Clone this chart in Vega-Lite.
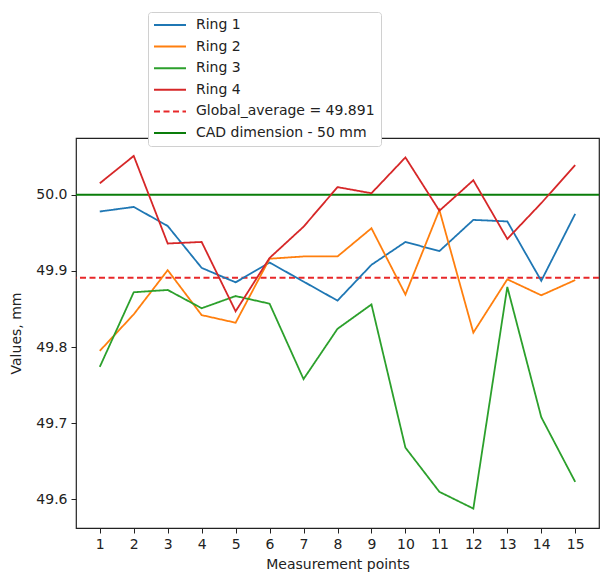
{
  "$schema": "https://vega.github.io/schema/vega-lite/v6.json",
  "width": 523,
  "height": 390,
  "autosize": {"type": "none"},
  "padding": {"left": 76, "top": 138, "right": 2, "bottom": 45},
  "config": {
    "font": "DejaVu Sans",
    "view": {"stroke": "#222", "strokeWidth": 1.2},
    "axis": {"grid": false, "domain": false, "tickColor": "#222", "tickSize": 5, "tickWidth": 1, "labelFontSize": 14, "labelColor": "#222", "titleFontSize": 14, "titleFontWeight": "normal", "titleColor": "#222", "labelFont": "DejaVu Sans", "titleFont": "DejaVu Sans"}
  },
  "datasets": {
    "rings": [
      {"point": 1, "series": "Ring 1", "value": 49.978},
      {"point": 2, "series": "Ring 1", "value": 49.984},
      {"point": 3, "series": "Ring 1", "value": 49.959},
      {"point": 4, "series": "Ring 1", "value": 49.904},
      {"point": 5, "series": "Ring 1", "value": 49.885},
      {"point": 6, "series": "Ring 1", "value": 49.911},
      {"point": 7, "series": "Ring 1", "value": 49.886},
      {"point": 8, "series": "Ring 1", "value": 49.861},
      {"point": 9, "series": "Ring 1", "value": 49.908},
      {"point": 10, "series": "Ring 1", "value": 49.938},
      {"point": 11, "series": "Ring 1", "value": 49.926},
      {"point": 12, "series": "Ring 1", "value": 49.967},
      {"point": 13, "series": "Ring 1", "value": 49.965},
      {"point": 14, "series": "Ring 1", "value": 49.887},
      {"point": 15, "series": "Ring 1", "value": 49.975},
      {"point": 1, "series": "Ring 2", "value": 49.795},
      {"point": 2, "series": "Ring 2", "value": 49.843},
      {"point": 3, "series": "Ring 2", "value": 49.901},
      {"point": 4, "series": "Ring 2", "value": 49.842},
      {"point": 5, "series": "Ring 2", "value": 49.832},
      {"point": 6, "series": "Ring 2", "value": 49.916},
      {"point": 7, "series": "Ring 2", "value": 49.919},
      {"point": 8, "series": "Ring 2", "value": 49.919},
      {"point": 9, "series": "Ring 2", "value": 49.956},
      {"point": 10, "series": "Ring 2", "value": 49.869},
      {"point": 11, "series": "Ring 2", "value": 49.980},
      {"point": 12, "series": "Ring 2", "value": 49.819},
      {"point": 13, "series": "Ring 2", "value": 49.889},
      {"point": 14, "series": "Ring 2", "value": 49.868},
      {"point": 15, "series": "Ring 2", "value": 49.888},
      {"point": 1, "series": "Ring 3", "value": 49.774},
      {"point": 2, "series": "Ring 3", "value": 49.872},
      {"point": 3, "series": "Ring 3", "value": 49.875},
      {"point": 4, "series": "Ring 3", "value": 49.851},
      {"point": 5, "series": "Ring 3", "value": 49.867},
      {"point": 6, "series": "Ring 3", "value": 49.857},
      {"point": 7, "series": "Ring 3", "value": 49.758},
      {"point": 8, "series": "Ring 3", "value": 49.824},
      {"point": 9, "series": "Ring 3", "value": 49.856},
      {"point": 10, "series": "Ring 3", "value": 49.668},
      {"point": 11, "series": "Ring 3", "value": 49.610},
      {"point": 12, "series": "Ring 3", "value": 49.588},
      {"point": 13, "series": "Ring 3", "value": 49.879},
      {"point": 14, "series": "Ring 3", "value": 49.708},
      {"point": 15, "series": "Ring 3", "value": 49.623},
      {"point": 1, "series": "Ring 4", "value": 50.015},
      {"point": 2, "series": "Ring 4", "value": 50.051},
      {"point": 3, "series": "Ring 4", "value": 49.936},
      {"point": 4, "series": "Ring 4", "value": 49.938},
      {"point": 5, "series": "Ring 4", "value": 49.847},
      {"point": 6, "series": "Ring 4", "value": 49.917},
      {"point": 7, "series": "Ring 4", "value": 49.958},
      {"point": 8, "series": "Ring 4", "value": 50.010},
      {"point": 9, "series": "Ring 4", "value": 50.002},
      {"point": 10, "series": "Ring 4", "value": 50.049},
      {"point": 11, "series": "Ring 4", "value": 49.979},
      {"point": 12, "series": "Ring 4", "value": 50.019},
      {"point": 13, "series": "Ring 4", "value": 49.942},
      {"point": 14, "series": "Ring 4", "value": 49.989},
      {"point": 15, "series": "Ring 4", "value": 50.039}
    ],
    "refs": [
      {"series": "Global_average = 49.891", "value": 49.891},
      {"series": "CAD dimension - 50 mm", "value": 50.0}
    ]
  },
  "encoding": {
    "y": {
      "field": "value", "type": "quantitative",
      "scale": {"domain": [49.5625, 50.0745], "zero": false, "nice": false},
      "axis": {"values": [49.6, 49.7, 49.8, 49.9, 50.0], "format": ".1f", "title": "Values, mm", "labelPadding": 4, "titlePadding": 12}
    },
    "color": {
      "field": "series", "type": "nominal",
      "scale": {
        "domain": ["Ring 1", "Ring 2", "Ring 3", "Ring 4", "Global_average = 49.891", "CAD dimension - 50 mm"],
        "range": ["#1f77b4", "#ff7f0e", "#2ca02c", "#d62728", "#e8282a", "#0a7d0a"]
      },
      "legend": {
        "title": null, "orient": "none", "legendX": 72, "legendY": -126,
        "symbolType": "M-1.4,0H5", "symbolSize": 100, "symbolStrokeWidth": 2,
        "labelFontSize": 14, "labelFont": "DejaVu Sans", "labelColor": "#222", "labelOffset": 28, "labelLimit": 400,
        "rowPadding": 7.6, "padding": 6, "fillColor": "white", "strokeColor": "#d0d0d0", "cornerRadius": 3
      }
    },
    "strokeDash": {
      "field": "series", "type": "nominal",
      "scale": {
        "domain": ["Ring 1", "Ring 2", "Ring 3", "Ring 4", "Global_average = 49.891", "CAD dimension - 50 mm"],
        "range": [[1, 0], [1, 0], [1, 0], [1, 0], [6, 3.5], [1, 0]]
      },
      "legend": {
        "title": null, "orient": "none", "legendX": 72, "legendY": -126,
        "symbolType": "M-1.4,0H5", "symbolSize": 100, "symbolStrokeWidth": 2,
        "labelFontSize": 14, "labelFont": "DejaVu Sans", "labelColor": "#222", "labelOffset": 28, "labelLimit": 400,
        "rowPadding": 7.6, "padding": 6, "fillColor": "white", "strokeColor": "#d0d0d0", "cornerRadius": 3
      }
    }
  },
  "layer": [
    {
      "data": {"name": "refs"},
      "mark": {"type": "rule", "strokeWidth": 2},
      "encoding": {}
    },
    {
      "data": {"name": "rings"},
      "mark": {"type": "line", "strokeWidth": 1.8},
      "encoding": {
        "x": {
          "field": "point", "type": "quantitative",
          "scale": {"domain": [0.3, 15.7], "nice": false, "zero": false},
          "axis": {"values": [1,2,3,4,5,6,7,8,9,10,11,12,13,14,15], "format": "d", "title": "Measurement points", "labelPadding": 4, "titlePadding": 6}
        }
      }
    }
  ]
}
